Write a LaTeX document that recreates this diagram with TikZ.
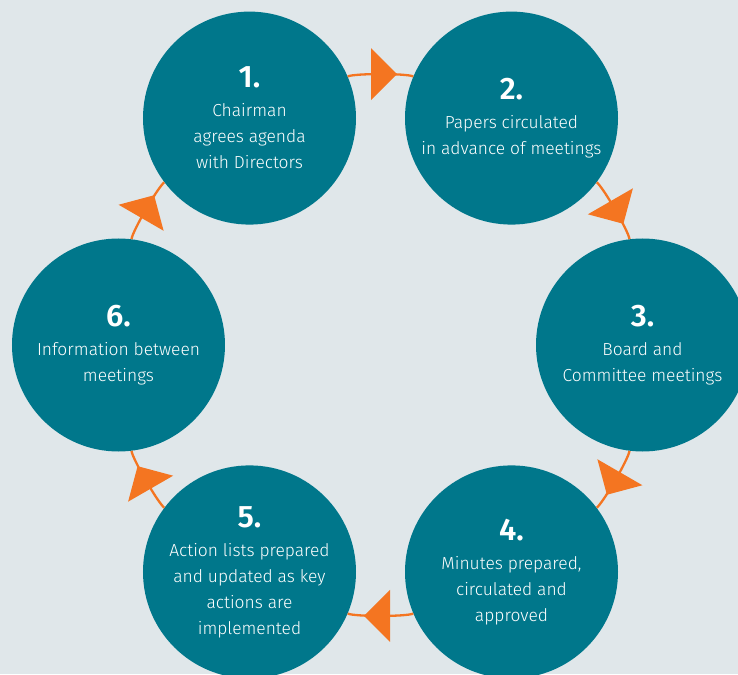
\documentclass[tikz,border=0pt]{standalone}
\usepackage{fontspec}
\setmainfont{Fira Sans Light}[BoldFont={Fira Sans SemiBold}]
\usetikzlibrary{decorations.markings}

\definecolor{bgcol}{HTML}{E0E7EA}
\definecolor{stageteal}{HTML}{00778B}
\definecolor{floworange}{HTML}{F47521}

\newcommand\stepnum[1]{{\fontsize{31}{26}\selectfont\bfseries #1}\\[3pt]}

\begin{document}
\begin{tikzpicture}[x=1pt, y=1pt,
    stage/.style={circle, fill=stageteal, minimum size=213pt, inner sep=0pt,
      align=center, text=white, font=\fontsize{17.4}{26}\selectfont},
    flow/.style={draw=floworange, line width=2.3pt, bend left=23, distance=8pt,
      postaction={decorate, decoration={markings, mark=at position 0.5 with
        {\fill[floworange] (16.5,0) -- (-9.5,26) -- (-9.5,-26) -- cycle;}}}}]
    \path[use as bounding box, fill=bgcol] (-380.5,-329) rectangle (357.5,345);

    \node[stage] (s1) at (120:262) {\stepnum{1.}Chairman\\agrees agenda\\with Directors};
    \node[stage] (s2) at (60:262) {\stepnum{2.}Papers circulated\\in advance of meetings};
    \node[stage] (s3) at (0:262) {\stepnum{3.}Board and\\Committee meetings};
    \node[stage] (s4) at (-60:262) {\stepnum{4.}Minutes prepared,\\circulated and\\approved};
    \node[stage] (s5) at (-120:262) {\stepnum{5.}Action lists prepared\\and updated as key\\actions are\\implemented};
    \node[stage] (s6) at (180:262) {\stepnum{6.}Information between\\meetings};

    \draw[flow] (s1) to (s2);
    \draw[flow] (s2) to (s3);
    \draw[flow] (s3) to (s4);
    \draw[flow] (s4) to (s5);
    \draw[flow] (s5) to (s6);
    \draw[flow] (s6) to (s1);
\end{tikzpicture}
\end{document}
